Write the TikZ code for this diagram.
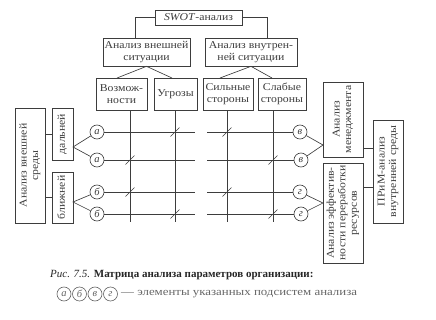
\documentclass[tikz,border=0pt]{standalone}
\usepackage{fontspec}
\usepackage{graphicx}
\usetikzlibrary{calc}
\setmainfont{Liberation Serif}
\newfontfamily\boxfont[FakeStretch=1.12]{Liberation Serif}
\newfontfamily\legfont[FakeStretch=1.17]{Liberation Serif}
\definecolor{ink}{gray}{0.24}
\definecolor{soft}{gray}{0.40}
\newcommand{\vtxt}[1]{\rotatebox{90}{\begin{tabular}{@{}c@{}}#1\end{tabular}}}
\tikzset{
  box/.style={draw=ink, line width=0.65pt, align=center, inner sep=0pt, text=ink,
    font=\boxfont\fontsize{10.5}{11.5}\selectfont},
  circ/.style={draw=ink, line width=0.65pt, circle, minimum size=14pt, inner sep=0pt, text=ink,
    font=\fontsize{10.5}{10.5}\selectfont\itshape},
  wire/.style={draw=ink, line width=0.65pt},
  tick/.style={draw=ink, line width=0.65pt},
}
\begin{document}
\begin{tikzpicture}[x=1pt,y=-1pt]
\useasboundingbox (0,0) rectangle (436,319);
% top level
\node[box, minimum width=87pt, minimum height=15pt] (swot) at (198.5,17.5) {\textit{SWOT}-анализ};
\node[box, minimum width=87pt, minimum height=28pt] (ext) at (146.5,52) {Анализ внешней\\ситуации};
\node[box, minimum width=92pt, minimum height=28pt] (int) at (251,52) {Анализ внутрен-\\ней ситуации};
% sub boxes
\node[box, minimum width=51pt, minimum height=32pt] (vozm) at (121.5,94) {Возмож-\\ности};
\node[box, minimum width=43pt, minimum height=32pt] (ugr) at (175.5,94) {Угрозы};
\node[box, minimum width=50pt, minimum height=32pt] (sil) at (228,94) {Сильные\\стороны};
\node[box, minimum width=48pt, minimum height=32pt] (slab) at (282,94) {Слабые\\стороны};
% left boxes
\node[box, minimum width=30pt, minimum height=115pt] (env) at (30,165.5) {\vtxt{Анализ внешней\\среды}};
\node[box, minimum width=21pt, minimum height=52pt] (dal) at (62.5,134) {\vtxt{дальней}};
\node[box, minimum width=21pt, minimum height=51pt] (bli) at (62.5,197.5) {\vtxt{ближней}};
% right boxes
\node[box, minimum width=40pt, minimum height=75pt] (men) at (343,119.5) {\vtxt{Анализ\\менеджмента}};
\node[box, minimum width=40pt, minimum height=100pt] (eff) at (343,213) {\vtxt{Анализ эффектив-\\ности переработки\\ресурсов}};
\node[box, minimum width=30pt, minimum height=103pt] (prim) at (388,171.5) {\vtxt{ПРиМ-анализ\\внутренней среды}};
% circles
\node[circ] (a1) at (97,132) {а};
\node[circ] (a2) at (97,160) {а};
\node[circ] (b1) at (97,192) {б};
\node[circ] (b2) at (97,214) {б};
\node[circ] (v1) at (300,132) {в};
\node[circ] (v2) at (301,160) {в};
\node[circ] (g1) at (300,192) {г};
\node[circ] (g2) at (301,214) {г};
% coordinates
\coordinate (extin) at (135,38);
\coordinate (intin) at (267,38);
\coordinate (vozmin) at (117,78);
\coordinate (ugrin) at (172,78);
\coordinate (silin) at (220,78);
\coordinate (slabin) at (272,78);
\coordinate (c1) at (130,222);
\coordinate (c2) at (175,222);
\coordinate (c3) at (227,222);
\coordinate (c4) at (273,222);
\coordinate (gapL) at (195,0);
\coordinate (gapR) at (207,0);
\coordinate (dalapex) at (73,147);
\coordinate (bliapex) at (73,202);
\coordinate (menapex) at (323,145);
\coordinate (effapex) at (323,203);
\coordinate (mp) at (0,148);
\coordinate (ep) at (0,187);
% tree connectors
\draw[wire] (swot.west) -| (extin);
\draw[wire] (swot.east) -| (intin);
\draw[wire] (vozmin) -- (ext.south) -- (ugrin);
\draw[wire] (silin) -- (int.south) -- (slabin);
% verticals
\draw[wire] (vozm.south -| c1) -- (c1);
\draw[wire] (ugr.south -| c2) -- (c2);
\draw[wire] (sil.south -| c3) -- (c3);
\draw[wire] (slab.south -| c4) -- (c4);
% horizontals
\foreach \l/\r in {a1/v1,a2/v2,b1/g1,b2/g2}{
  \draw[wire] (\l.east) -- (gapL |- \l);
  \draw[wire] (gapR |- \r) -- (\r.west);
}
% ticks
\foreach \cc/\rr in {c2/a1,c3/a1,c1/a2,c4/a2,c1/b1,c3/b1,c2/b2,c4/b2}{
  \draw[tick] ($(\cc |- \rr)+(-4.5,4.5)$) -- ($(\cc |- \rr)+(4.5,-4.5)$);
}
% left connectors
\draw[wire] (env.east |- dal) -- (dal.west);
\draw[wire] (env.east |- bli) -- (bli.west);
\draw[wire] (a1) -- (dalapex) -- (a2);
\draw[wire] (b1) -- (bliapex) -- (b2);
% right connectors
\draw[wire] (v1) -- (menapex) -- (v2);
\draw[wire] (g1) -- (effapex) -- (g2);
\draw[wire] (men.east |- mp) -- (prim.west |- mp);
\draw[wire] (eff.east |- ep) -- (prim.west |- ep);
% caption
\node[anchor=west, inner sep=0pt, text=black!85, font=\fontsize{11}{12}\selectfont] (cap) at (50,275)
  {\textit{Рис. 7.5.} \textbf{Матрица анализа параметров организации:}};
\node[circ, text=soft, draw=soft] (ka) at (64,294) {а};
\node[circ, text=soft, draw=soft] (kb) at (79.5,294) {б};
\node[circ, text=soft, draw=soft] (kv) at (95,294) {в};
\node[circ, text=soft, draw=soft] (kg) at (110.5,294) {г};
\node[anchor=west, inner sep=0pt, text=soft, font=\legfont\fontsize{11}{12}\selectfont] (leg) at (121,294)
  {— элементы указанных подсистем анализа};
\end{tikzpicture}
\end{document}
